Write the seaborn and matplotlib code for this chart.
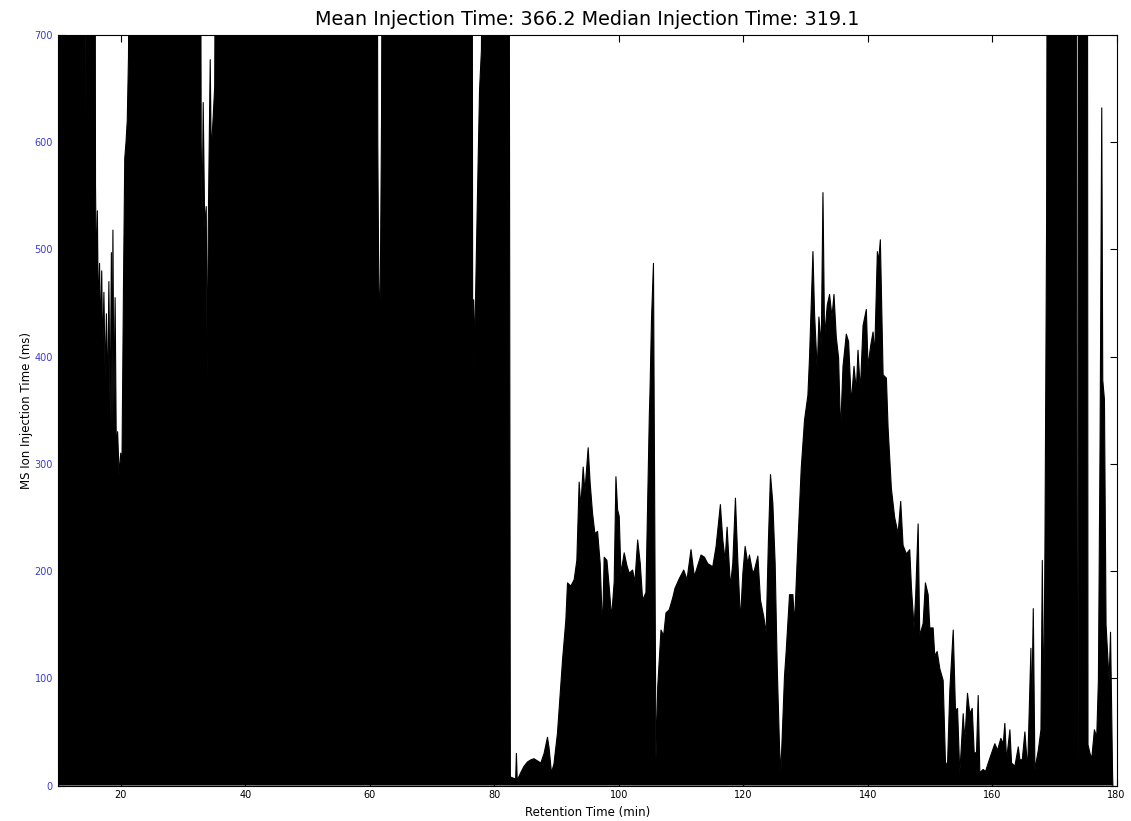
import matplotlib
matplotlib.use("Agg")
import matplotlib.pyplot as plt
import pandas as pd
import seaborn as sns

# MS1 scan injection times across the gradient (values above 700 ms are off-scale)
retention_min = [
    10.0, 14.35, 14.45, 14.6, 15.85, 15.95, 16.1, 16.25, 16.4, 16.6, 16.75, 16.95,
    17.1, 17.3, 17.5, 17.7, 17.9, 18.1, 18.3, 18.5, 18.6, 18.75, 18.9, 19.1,
    19.3, 19.5, 19.75, 20.0, 20.2, 20.45, 20.65, 20.85, 21.05, 21.25, 21.5,
    32.45, 32.5, 32.55, 32.77, 32.93, 33.09, 33.25, 33.5, 33.74, 33.9, 34.06,
    34.38, 34.54, 34.86, 35.1, 35.35,
    45.9, 45.95, 46.0, 46.35, 46.4, 46.45, 47.3, 47.35, 47.4, 47.8, 47.85, 47.9,
    59.85, 59.95, 60.05, 61.15, 61.3, 61.45, 61.6, 61.75, 61.9, 62.1,
    62.8, 62.86, 62.92, 74.1, 74.15, 74.2,
    76.45, 76.55, 76.7, 76.85, 77.3, 77.65, 77.95, 78.3,
    80.2, 80.27, 80.33, 80.75, 80.8, 80.85, 82.4, 82.45,
    82.6, 83.45, 83.57, 83.7, 84.27, 84.8, 85.35, 85.9, 86.4, 86.96, 87.49,
    88.02, 88.3, 88.56, 88.82, 89.2, 89.6,
    90.17, 90.98, 91.51, 91.78, 92.31, 92.85, 93.28, 93.65, 93.92, 94.3, 94.57,
    95.1, 95.42, 95.8, 96.18, 96.61, 97.03, 97.41, 97.67, 98.11, 98.48, 98.86,
    99.28, 99.56, 99.83, 100.09, 100.36, 100.89, 101.33, 101.7, 102.24, 102.61,
    103.05, 103.47, 103.85, 104.38, 104.66, 104.92, 105.03, 105.27, 105.59,
    105.75, 105.99,
    106.27, 106.8, 107.23, 107.6, 108.13, 108.68, 109.05, 109.74, 110.45, 110.98,
    111.62, 112.16, 112.7, 113.23, 113.77, 114.31, 115.11, 115.65, 116.34,
    116.73, 117.1, 117.42, 117.95, 118.33, 118.76, 119.14, 119.56, 119.95,
    120.32, 120.75, 121.01, 121.55, 121.81, 122.36, 122.78, 123.32, 123.69,
    124.06, 124.39, 124.77, 125.14, 125.47, 125.84, 126.05,
    126.64, 126.91, 127.45, 127.99, 128.25, 128.8, 129.33, 129.86, 130.4, 130.66,
    131.21, 131.47, 131.9, 132.17, 132.55, 132.82, 133.08, 133.51, 133.88,
    134.27, 134.59, 134.96, 135.33, 135.65, 136.04, 136.57, 136.94, 137.37,
    137.81, 138.18, 138.45, 138.82, 139.26, 139.79, 140.06, 140.48, 140.87,
    141.13, 141.56, 141.77, 142.04, 142.48, 143.01, 143.28, 143.81, 144.34,
    144.89, 145.31, 145.69, 146.22, 146.76, 147.03, 147.46, 147.72, 148.11,
    148.37, 148.91, 149.28, 149.72, 149.98, 150.52, 150.78, 151.17, 151.59,
    152.13, 152.5, 152.82,
    153.2, 153.75, 154.11, 154.44, 154.8, 155.35, 155.61, 156.04, 156.41, 156.8,
    157.12, 157.49, 157.76, 158.02, 158.56, 158.93, 159.37, 159.9, 160.43,
    160.87, 161.4, 161.79, 162.04, 162.32, 162.85, 163.12, 163.65, 164.2,
    164.46, 164.84, 165.26, 165.7, 166.23, 166.34, 166.61, 166.87, 167.42,
    167.84, 168.06, 168.27, 168.48, 168.75, 168.9,
    173.55, 173.65, 173.8, 173.9, 175.3, 175.4,
    175.72, 176.0, 176.43, 176.8, 177.07, 177.34, 177.61, 177.77, 178.04, 178.3,
    178.58, 178.79, 179.02, 179.35, 179.4,
]

injection_ms = [
    1000, 1000, 450, 1000, 1000, 560, 470, 536, 440, 487, 420, 480,
    400, 460, 380, 440, 360, 470, 340, 497, 330, 518, 350, 455,
    310, 330, 290, 310, 300, 470, 585, 600, 620, 680, 1000,
    1000, 475, 1000, 1000, 600, 530, 637, 520, 540, 378, 520,
    677, 590, 624, 652, 1000,
    1000, 670, 1000, 1000, 633, 1000, 1000, 602, 1000, 1000, 650, 1000,
    1000, 665, 1000, 1000, 600, 474, 420, 500, 620, 1000,
    1000, 665, 1000, 1000, 650, 1000,
    1000, 353, 453, 406, 546, 649, 686, 1000,
    1000, 521, 1000, 1000, 630, 1000, 1000, 646,
    8, 6, 30, 5, 12, 18, 22, 24, 25, 23, 21,
    30, 38, 45, 35, 12, 20,
    49, 117, 154, 189, 186, 192, 210, 283, 260, 297, 274,
    315, 282, 254, 235, 237, 207, 145, 213, 210, 185, 157,
    190, 288, 257, 251, 198, 217, 205, 198, 201, 190,
    229, 207, 173, 180, 266, 344, 367, 434, 487,
    300, 24,
    92, 145, 140, 161, 164, 175, 184, 193, 201, 192,
    220, 195, 205, 215, 213, 207, 204, 223, 262,
    229, 210, 241, 186, 207, 268, 210, 154, 198,
    223, 207, 215, 198, 201, 214, 173, 157, 142,
    229, 290, 263, 207, 111, 36, 12,
    102, 125, 178, 178, 151, 227, 296, 341, 364, 399,
    498, 440, 387, 437, 410, 553, 418, 448, 458,
    437, 458, 418, 399, 330, 391, 421, 414, 357,
    391, 368, 406, 368, 429, 444, 391, 410, 423,
    402, 498, 489, 509, 383, 380, 334, 277, 250,
    235, 265, 224, 216, 220, 185, 147, 178, 244,
    140, 151, 189, 178, 147, 147, 121, 125, 109,
    98, 22, 18,
    89, 145, 70, 72, 11, 67, 42, 86, 67, 72,
    30, 31, 84, 12, 15, 13, 21, 30, 39,
    33, 44, 39, 58, 24, 52, 21, 18, 36,
    24, 24, 50, 15, 128, 60, 165, 15, 33,
    52, 210, 60, 219, 527, 1000,
    1000, 28, 28, 1000, 1000, 38,
    30, 25, 52, 45, 98, 322, 632, 378, 360, 150,
    120, 98, 143, 10, 0,
]

mean_it = 366.2
median_it = 319.1

x_ticks = [20, 40, 60, 80, 100, 120, 140, 160, 180]
y_ticks = [0, 100, 200, 300, 400, 500, 600, 700]

scans = pd.DataFrame({"rt": retention_min, "it": injection_ms})

sns.set_theme(style="ticks")
plt.rcParams["font.family"] = ["DejaVu Sans"]
plt.rcParams["text.color"] = "black"
plt.rcParams["axes.labelcolor"] = "black"

fig = plt.figure(figsize=(11.31, 8.21), dpi=100)
ax = fig.add_axes([0.0517, 0.0432, 0.9356, 0.9142])

ax.fill_between(scans["rt"], 0, scans["it"], color="black", linewidth=0)
sns.lineplot(data=scans, x="rt", y="it", color="black", linewidth=0.8,
             sort=False, estimator=None, ax=ax)

ax.set_xlim(10, 180)
ax.set_ylim(0, 700)
ax.set_xticks(x_ticks)
ax.set_yticks(y_ticks)
ax.tick_params(axis="both", direction="in", top=True, right=True,
               length=5, width=0.8, color="black", labelsize=7)
ax.tick_params(axis="x", labelcolor="black")
ax.tick_params(axis="y", labelcolor="#3c3cd0", pad=4)
for side in ax.spines.values():
    side.set_color("black")
    side.set_linewidth(0.8)

ax.set_xlabel("Retention Time (min)", fontsize=8.5, labelpad=4, color="black")
ax.set_ylabel("MS Ion Injection Time (ms)", fontsize=8.5, color="black")
ax.yaxis.set_label_coords(-0.0245, 0.5)
ax.set_title(f"Mean Injection Time: {mean_it} Median Injection Time: {median_it}",
             fontsize=13.8, pad=7, color="black")

fig.savefig("out.png", dpi=100)
